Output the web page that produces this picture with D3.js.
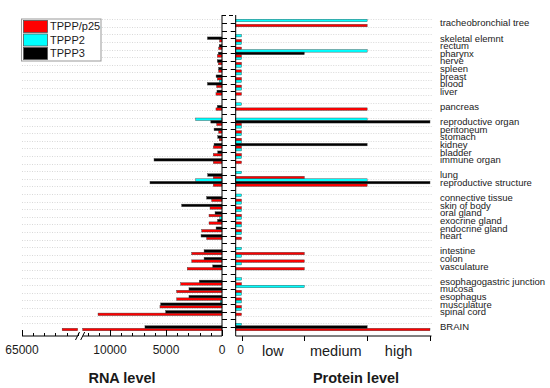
<!DOCTYPE html>
<html><head><meta charset="utf-8">
<script src="https://cdn.jsdelivr.net/npm/d3@7"></script>
<style>html,body{margin:0;padding:0;background:#fff;} svg{display:block;font-family:"Liberation Sans",Arial,sans-serif;}</style>
</head><body><svg id="c" width="550" height="388"></svg>
<script>
// ---- data ----
const categories = [
  "tracheobronchial tree", "",
  "skeletal elemnt", "rectum", "pharynx", "nerve", "spleen", "breast", "blood", "liver", "",
  "pancreas", "",
  "reproductive organ", "peritoneum", "stomach", "kidney", "bladder", "immune organ", "",
  "lung", "reproductive structure", "",
  "connective tissue", "skin of body", "oral gland", "exocrine gland", "endocrine gland", "heart", "",
  "intestine", "colon", "vasculature", "",
  "esophagogastric junction", "mucosa", "esophagus", "musculature", "spinal cord", "",
  "BRAIN"
];
const seriesNames = ["TPPP/p25", "TPPP2", "TPPP3"];
const seriesColors = ["#ff0000", "#00ffff", "#000000"];
// RNA level (left panel)
const rnaP25 = [0,null, 220,300,420,330,300,420,480,540,null, 540,null, 470,300,250,780,780,780,null, 780,780,null, 920,1070,1160,1160,1810,1370,null, 2700,2700,3100,null, 3690,4050,4050,5540,11070,null, 61400];
const rnaTPPP2 = [0,null, 0,0,0,0,0,0,240,0,null, 0,null, 2350,0,0,0,0,0,null, 0,2350,null, 0,0,0,200,0,0,null, 0,0,0,null, 0,0,0,150,0,null, 0];
const rnaTPPP3 = [0,null, 1300,250,330,420,300,530,1300,450,null, 420,null, 1000,710,380,710,380,6070,null, 1280,6430,null, 1370,3600,620,400,530,1870,null, 1600,1600,830,null, 2030,2950,2950,5480,5030,null, 6880];
// Protein level (right panel): 0 = not detected, 1 = low, 2 = medium, 3 = high
const protP25 = [2,null, 0,0,0,0,0,0,0,0,null, 2,null, 0,0,0,0,0,0,null, 1,2,null, 0,0,0,0,0,0,null, 1,1,1,null, 0,0,0,0,0,null, 3];
const protTPPP2 = [2,null, 0,0,2,0,0,0,0,0,null, 0,null, 2,0,0,0,0,0,null, 0,2,null, 0,0,0,0,0,0,null, 0,0,0,null, 0,1,0,0,0,null, 0];
const protTPPP3 = [null,null, null,null,1,null,null,null,null,null,null, null,null, 3,null,null,2,null,null,null, null,3,null, null,null,null,null,null,null,null, null,null,null,null, null,null,null,null,null,null, 2];
const rnaTickLabels = [0, 5000, 10000, 65000];
const proteinLevelLabels = ["low", "medium", "high"];

// ---- layout ----
const svg = d3.select("#c");
const yTop = 15, yAxis = 336;
const xL0 = 222, xR0 = 235.7;
const y = d3.scaleBand().domain(d3.range(categories.length)).range([19.2, 330.8]);
const sub = d3.scaleBand().domain(["TPPP2", "TPPP3", "TPPP/p25"]).range([0, y.bandwidth()]);
const xLow = d3.scaleLinear().domain([0, 12500]).range([xL0, 82]);
const xHigh = d3.scaleLinear().domain([59800, 65000]).range([80, 22]);
const breakLo = 12500;
const rnaX = v => v <= breakLo ? xLow(v) : xHigh(v);
const xP = d3.scaleLinear().domain([0, 3]).range([241.5, 430]);

// gridlines
const gridG = svg.append("g").attr("stroke", "#cfcfcf").attr("stroke-width", 0.8).attr("stroke-dasharray", "1,1.5");
d3.range(1, categories.length + 1).forEach(i => {
  const yb = Math.round(y(i - 1)) + 0.5;
  gridG.append("line").attr("x1", 22).attr("x2", xL0).attr("y1", yb).attr("y2", yb);
  gridG.append("line").attr("x1", xR0).attr("x2", 432).attr("y1", yb).attr("y2", yb);
});

// bars
const rnaSeries = [rnaP25, rnaTPPP2, rnaTPPP3];
const protSeries = [protP25, protTPPP2, protTPPP3];
const barsG = svg.append("g").attr("stroke", "#3a3a3a").attr("stroke-width", 0.4);
seriesNames.forEach((s, si) => {
  const rows = categories.map((c, i) => ({i, rna: rnaSeries[si][i], prot: protSeries[si][i]}));
  const h = sub.bandwidth();
  rows.filter(d => d.rna != null && d.rna > 0).forEach(d => {
    const yy = y(d.i) + sub(s);
    if (d.rna > breakLo) {
      barsG.append("rect").attr("x", rnaX(d.rna)).attr("y", yy).attr("width", 77.7 - rnaX(d.rna)).attr("height", h).attr("fill", seriesColors[si]);
      barsG.append("rect").attr("x", 82.7).attr("y", yy).attr("width", xL0 - 82.7).attr("height", h).attr("fill", seriesColors[si]);
    } else {
      barsG.append("rect").attr("x", rnaX(d.rna)).attr("y", yy).attr("width", xL0 - rnaX(d.rna)).attr("height", h).attr("fill", seriesColors[si]);
    }
  });
  rows.filter(d => d.prot != null).forEach(d => {
    const yy = y(d.i) + sub(s);
    barsG.append("rect").attr("x", xR0).attr("y", yy).attr("width", xP(d.prot) - xR0).attr("height", h).attr("fill", seriesColors[si]);
  });
});

// middle axes
const axG = svg.append("g").attr("stroke", "#000").attr("stroke-width", 1).attr("fill", "none");
axG.append("line").attr("x1", xL0).attr("x2", xL0).attr("y1", yTop).attr("y2", yAxis);
axG.append("line").attr("x1", xR0).attr("x2", xR0).attr("y1", yTop).attr("y2", yAxis);
axG.append("line").attr("x1", xL0).attr("x2", xR0).attr("y1", yTop + 0.5).attr("y2", yTop + 0.5).attr("stroke-dasharray", "4,3");
d3.range(categories.length).forEach(i => {
  const yc = Math.round(y(i) + y.bandwidth() / 2) + 0.5;
  axG.append("line").attr("x1", xL0).attr("x2", xL0 + 5).attr("y1", yc).attr("y2", yc);
  axG.append("line").attr("x1", xR0 - 5).attr("x2", xR0).attr("y1", yc).attr("y2", yc);
});

// left bottom axis with break
axG.append("line").attr("x1", 22).attr("x2", 77.7).attr("y1", yAxis).attr("y2", yAxis);
axG.append("line").attr("x1", 82.7).attr("x2", xL0).attr("y1", yAxis).attr("y2", yAxis);
axG.append("line").attr("x1", 75.5).attr("x2", 79.5).attr("y1", yAxis + 4).attr("y2", yAxis - 4);
axG.append("line").attr("x1", 80.7).attr("x2", 84.7).attr("y1", yAxis + 4).attr("y2", yAxis - 4);
const minorLow = d3.range(0, 12001, 1000), minorHigh = d3.range(60000, 65001, 1000);
minorLow.concat(minorHigh).forEach(v => {
  const major = rnaTickLabels.includes(v);
  const xx = Math.round(rnaX(v)) + 0.5;
  axG.append("line").attr("x1", xx).attr("x2", xx).attr("y1", yAxis).attr("y2", yAxis - (major ? 6 : 3));
});
const txt = svg.append("g").attr("fill", "#1a1a1a");
rnaTickLabels.forEach(v => {
  txt.append("text").attr("x", rnaX(v)).attr("y", 353.5).attr("text-anchor", "middle").attr("font-size", 12).text(v);
});

// right bottom axis
axG.append("line").attr("x1", xR0).attr("x2", xP(3) + 1.5).attr("y1", yAxis).attr("y2", yAxis);
[0, 1, 2, 3].forEach(v => {
  const xx = Math.round(xP(v)) + 0.5;
  axG.append("line").attr("x1", xx).attr("x2", xx).attr("y1", yAxis).attr("y2", yAxis + 5);
});
txt.append("text").attr("x", xP(0) - 1).attr("y", 353.5).attr("text-anchor", "middle").attr("font-size", 12).text("0");
proteinLevelLabels.forEach((l, k) => {
  txt.append("text").attr("x", (xP(k) + xP(k + 1)) / 2).attr("y", 356).attr("text-anchor", "middle").attr("font-size", 14.5).text(l);
});

// axis titles
txt.append("text").attr("x", 122).attr("y", 383).attr("text-anchor", "middle").attr("font-size", 14.5).attr("font-weight", "bold").text("RNA level");
txt.append("text").attr("x", 356).attr("y", 383).attr("text-anchor", "middle").attr("font-size", 14.5).attr("font-weight", "bold").text("Protein level");

// category labels
categories.forEach((c, i) => {
  if (!c) return;
  txt.append("text").attr("x", 440).attr("y", y(i) + y.bandwidth() / 2).attr("dy", "0.35em").attr("font-size", 9.5).text(c);
});

// legend
const lg = svg.append("g");
lg.append("rect").attr("x", 21.5).attr("y", 19).attr("width", 79.5).attr("height", 42).attr("fill", "#fff").attr("stroke", "#999").attr("stroke-width", 1);
seriesNames.forEach((s, k) => {
  const yy = 20.5 + k * 13.5;
  lg.append("rect").attr("x", 23.5).attr("y", yy).attr("width", 24).attr("height", 12).attr("fill", seriesColors[k]).attr("stroke", "#555").attr("stroke-width", 0.8);
  lg.append("text").attr("x", 50).attr("y", yy + 6).attr("dy", "0.36em").attr("font-size", 11).attr("fill", "#1a1a1a").text(s);
});
</script></body></html>
